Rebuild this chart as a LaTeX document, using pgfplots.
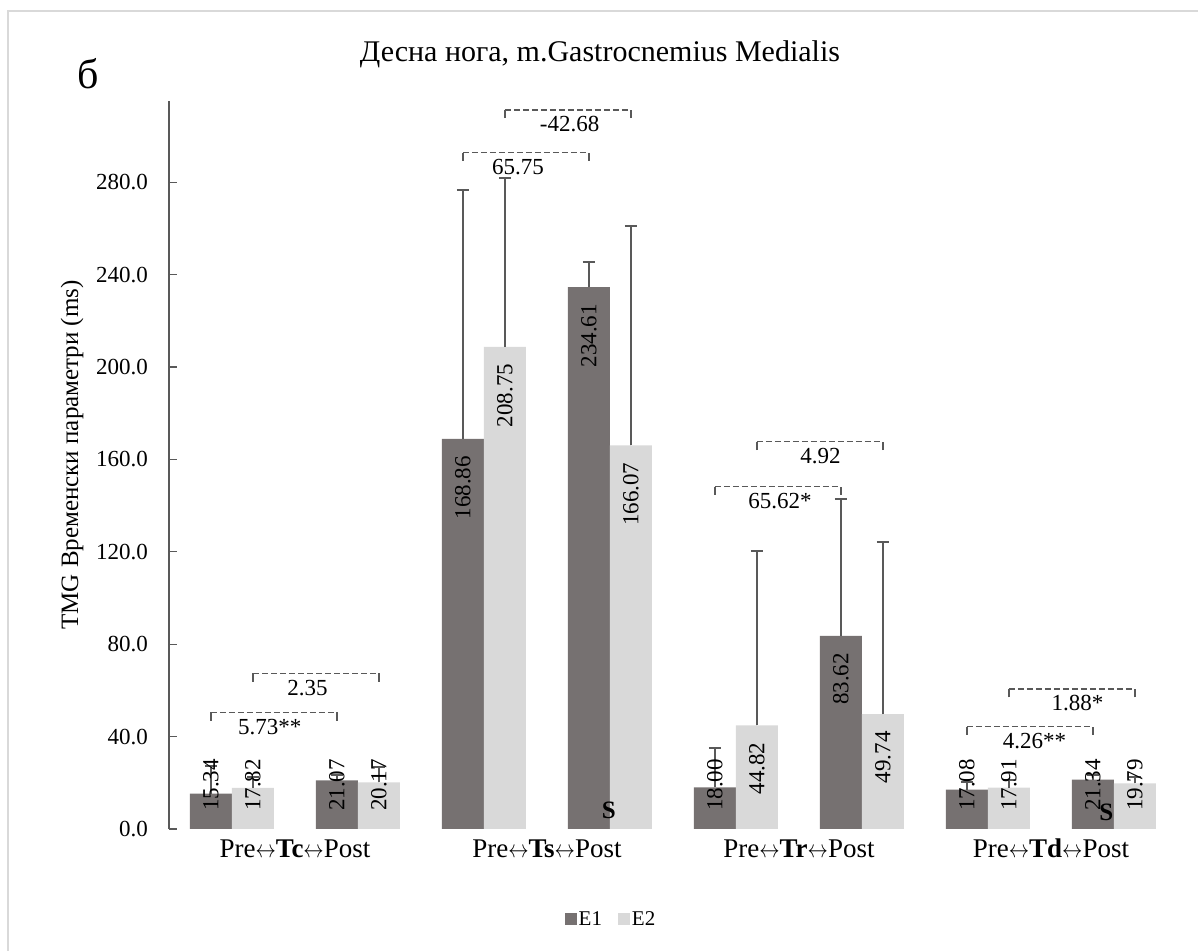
\documentclass[border=0pt]{standalone}
\usepackage{fontspec}
\setmainfont{Liberation Serif}
\usepackage{pgfplots}
\pgfplotsset{compat=1.18}
\usepackage{pgfplotstable}

\definecolor{eone}{HTML}{767171}
\definecolor{etwo}{HTML}{D9D9D9}
\definecolor{axisgray}{HTML}{595959}
\definecolor{framegray}{HTML}{D9D9D9}

% k: Pre/Post slot (0..7), y: mean, err: SD (upward only)
\pgfplotstableread{
k y err
0 15.34 12.0
1 21.07 2.5
2 168.86 107.7
3 234.61 11.0
4 18.00 17.2
5 83.62 59.1
6 17.08 3.3
7 21.34 2.2
}\tableEone
\pgfplotstableread{
k y err
0 17.82 4.8
1 20.17 6.8
2 208.75 72.9
3 166.07 94.9
4 44.82 75.7
5 49.74 74.7
6 17.91 3.3
7 19.79 2.7
}\tableEtwo

\newcommand{\tfont}{\fontsize{23bp}{27bp}\selectfont}
\newcommand{\arr}{\scalebox{0.82}[1]{$\leftrightarrow$}}
% value label inside the top of a tall bar
\newcommand{\biglab}[2]{\node[rotate=90,anchor=east,inner sep=0pt,font=\tfont] at ([yshift=-17bp]axis cs:#1,#2) {#2};}
% value label of a short bar, set from near the base
\newcommand{\smalllab}[2]{\node[rotate=90,anchor=west,inner sep=0pt,font=\tfont] at ([yshift=18bp]axis cs:#1,0) {#2};}
% dashed comparison bracket with solid end ticks and its label below
\newcommand{\bracket}[5]{%
  \addplot[axisgray, line width=1.3bp, dash pattern=on 6bp off 3bp, no markers]
    coordinates {(#1,#3) (#2,#3)};
  \addplot[axisgray, line width=1.3bp, no markers]
    coordinates {(#1,#3-3.6) (#1,#3)};
  \addplot[axisgray, line width=1.3bp, no markers]
    coordinates {(#2,#3-3.6) (#2,#3)};
  \node[font=\tfont, inner sep=0pt] at ([yshift=-14.5bp]axis cs:#4,#3) {#5};}

\begin{document}
\begin{tikzpicture}
\useasboundingbox (0,0) rectangle (1198bp,951bp);
\draw[framegray, line width=2.5bp] (8bp,0bp) -- (8bp,940bp) -- (1198bp,940bp);

\begin{axis}[
  at={(169bp,122bp)}, anchor=south west,
  scale only axis, width=1008bp, height=727.65bp,
  xmin=-0.5, xmax=7.5, ymin=0, ymax=315,
  axis lines*=left,
  x axis line style={draw=none},
  y axis line style={axisgray, line width=1.2bp},
  ytick={0,40,...,280},
  ytick style={axisgray, line width=1.2bp},
  major tick length=8bp,
  tick align=inside,
  yticklabel style={font=\tfont, inner sep=0pt, xshift=-21bp},
  /pgf/number format/.cd, fixed, fixed zerofill, precision=1, assume math mode=true,
  /pgfplots/.cd,
  xtick={0.5,2.5,4.5,6.5},
  xtick style={draw=none},
  xticklabels={Pre\arr\textbf{Tc}\arr Post, Pre\arr\textbf{Ts}\arr Post, Pre\arr\textbf{Tr}\arr Post, Pre\arr\textbf{Td}\arr Post},
  xticklabel style={font=\fontsize{27bp}{32bp}\selectfont, anchor=base, inner sep=0pt, yshift=-29bp},
  clip=false,
  legend columns=2,
  legend style={at={(0.4385,-0.1235)}, anchor=center, draw=none, fill=none,
    font=\fontsize{21bp}{25bp}\selectfont,
    /tikz/every even column/.append style={column sep=14bp}},
  legend image code/.code={\fill[#1, draw=none] (0bp,-6bp) rectangle (12bp,6bp);},
]
\addplot[ybar, bar width=42bp, bar shift=0pt, fill=eone, draw=none,
  error bars/.cd, y dir=plus, y explicit,
  error bar style={axisgray, line width=2bp},
  error mark options={rotate=90, mark size=6bp, axisgray, line width=2bp}]
  table[x expr=\thisrow{k}-1/6, y=y, y error=err] {\tableEone};
\addlegendentry{E1}
\addplot[ybar, bar width=42bp, bar shift=0pt, fill=etwo, draw=none,
  error bars/.cd, y dir=plus, y explicit,
  error bar style={axisgray, line width=2bp},
  error mark options={rotate=90, mark size=6bp, axisgray, line width=2bp}]
  table[x expr=\thisrow{k}+1/6, y=y, y error=err] {\tableEtwo};
\addlegendentry{E2}

% value labels
\smalllab{-0.1667}{15.34}
\smalllab{0.1667}{17.82}
\smalllab{0.8333}{21.07}
\smalllab{1.1667}{20.17}
\biglab{1.8333}{168.86}
\biglab{2.1667}{208.75}
\biglab{2.8333}{234.61}
\biglab{3.1667}{166.07}
\smalllab{3.8333}{18.00}
\biglab{4.1667}{44.82}
\biglab{4.8333}{83.62}
\biglab{5.1667}{49.74}
\smalllab{5.8333}{17.08}
\smalllab{6.1667}{17.91}
\smalllab{6.8333}{21.34}
\smalllab{7.1667}{19.79}

% Pre vs Post comparisons
\bracket{-0.1667}{0.8333}{50.5}{0.30}{5.73**}
\bracket{0.1667}{1.1667}{67.4}{0.60}{2.35}
\bracket{1.8333}{2.8333}{292.8}{2.27}{65.75}
\bracket{2.1667}{3.1667}{311.3}{2.68}{-42.68}
\bracket{3.8333}{4.8333}{148.2}{4.35}{65.62*}
\bracket{4.1667}{5.1667}{167.6}{4.67}{4.92}
\bracket{5.8333}{6.8333}{44.3}{6.37}{4.26**}
\bracket{6.1667}{7.1667}{60.6}{6.71}{1.88*}

% significance marks
\node[font=\fontsize{25bp}{29bp}\selectfont\bfseries, inner sep=0pt] at (axis cs:2.99,8) {S};
\node[font=\fontsize{25bp}{29bp}\selectfont\bfseries, inner sep=0pt] at (axis cs:6.94,7) {S};
\end{axis}

\node[font=\fontsize{30bp}{34bp}\selectfont] at (600bp,897bp) {Десна нога, m.Gastrocnemius Medialis};
\node[font=\fontsize{42bp}{46bp}\selectfont] at (88bp,877bp) {б};
\node[font=\fontsize{25bp}{29bp}\selectfont, rotate=90] at (72bp,496bp) {TMG Временски параметри (ms)};
\end{tikzpicture}
\end{document}
